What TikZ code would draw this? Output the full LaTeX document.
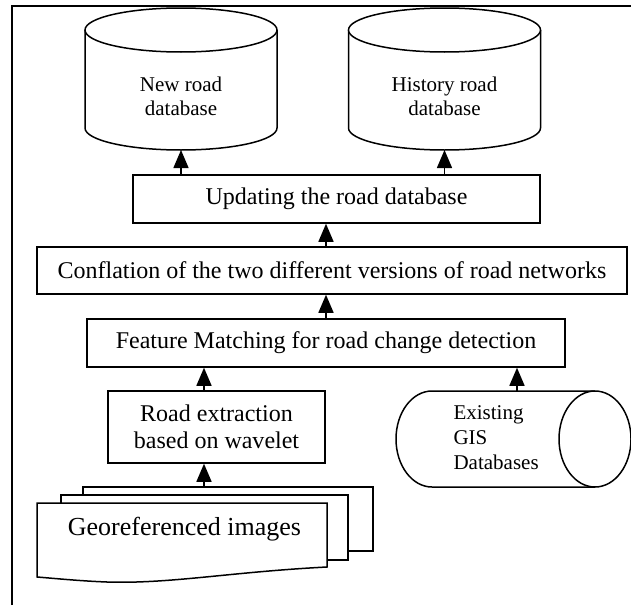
\documentclass[tikz,border=0pt]{standalone}
\usepackage{fontspec}
\setmainfont{Liberation Serif}
\usetikzlibrary{arrows.meta,positioning}

\tikzset{
  box/.style={draw, line width=1.5pt, minimum height=48pt, inner sep=0pt, font=\fontsize{24}{27}\selectfont},
  db/.style={draw, fill=white, line width=1.5pt},
  dbtext/.style={align=center, font=\fontsize{21}{24}\selectfont},
  arr/.style={-{Triangle[length=18pt,width=15pt]}, line width=1.5pt},
  sheet/.style={draw, fill=white, line width=1.5pt},
}

\begin{document}
\begin{tikzpicture}[x=1pt,y=-1pt]
  \useasboundingbox (0,0) rectangle (631,605);
  % outer frame, cut by the page
  \draw[line width=1.5pt] (12,605) -- (12,6) -- (631,6);

  % the two road databases
  \foreach \cx/\name in {181/newdb, 444.5/histdb} {
    \draw[db] (\cx-96,30) -- (\cx-96,128) arc[start angle=180, end angle=0, x radius=96, y radius=22] -- (\cx+96,30);
    \draw[db] (\cx,30) ellipse [x radius=96, y radius=22];
    \coordinate (\name) at (\cx,150);
  }
  \node[dbtext] (newtext) at (181,96) {New road\\database};
  \node[dbtext] (histtext) at (444.5,96) {History road\\database};

  % processing steps
  \node[box, minimum width=407pt] (upd) at (336.5,199) {Updating the road database};
  \node[box, minimum width=590pt, minimum height=47pt] (conf) at (332,270.5) {Conflation of the two different versions of road networks};
  \node[box, minimum width=478pt] (feat) at (326,343) {Feature Matching for road change detection};
  \node[box, minimum width=217pt, minimum height=72pt, align=center] (road) at (216.5,427) {Road extraction\\based on wavelet};

  % existing GIS databases
  \draw[db] (595,391) -- (432,391) arc[start angle=270, end angle=90, x radius=36, y radius=48] -- (595,487);
  \draw[db] (595,439) ellipse [x radius=36, y radius=48];
  \coordinate (gis) at (517,391);
  \node[align=left, anchor=west, font=\fontsize{21}{25}\selectfont] (gistext) at (450,438) {Existing\\GIS\\Databases};

  % georeferenced images (stack of sheets)
  \draw[sheet] (83,487) rectangle (373,551);
  \draw[sheet] (61,495) rectangle (348,560);
  \draw[sheet] (37,503) -- (327,503) -- (327,567)
    .. controls (230,572) and (170,584) .. (107,582)
    .. controls (80,581) and (50,578) .. (37,577) -- cycle;
  \node[anchor=base, font=\fontsize{26}{30}\selectfont] (geo) at (184.5,535) {Georeferenced images};
  \coordinate (geotop) at (204,487);

  % arrows
  \draw[arr] (geotop) -- (road.south -| geotop);
  \draw[arr] (road.north -| geotop) -- (feat.south -| geotop);
  \draw[arr] (gis) -- (feat.south -| gis);
  \draw[arr] (feat.north) -- (conf.south -| feat);
  \draw[arr] (conf.north -| feat) -- (upd.south -| feat);
  \draw[arr] (upd.north -| newdb) -- (newdb);
  \draw[arr] (upd.north -| histdb) -- (histdb);
\end{tikzpicture}
\end{document}
